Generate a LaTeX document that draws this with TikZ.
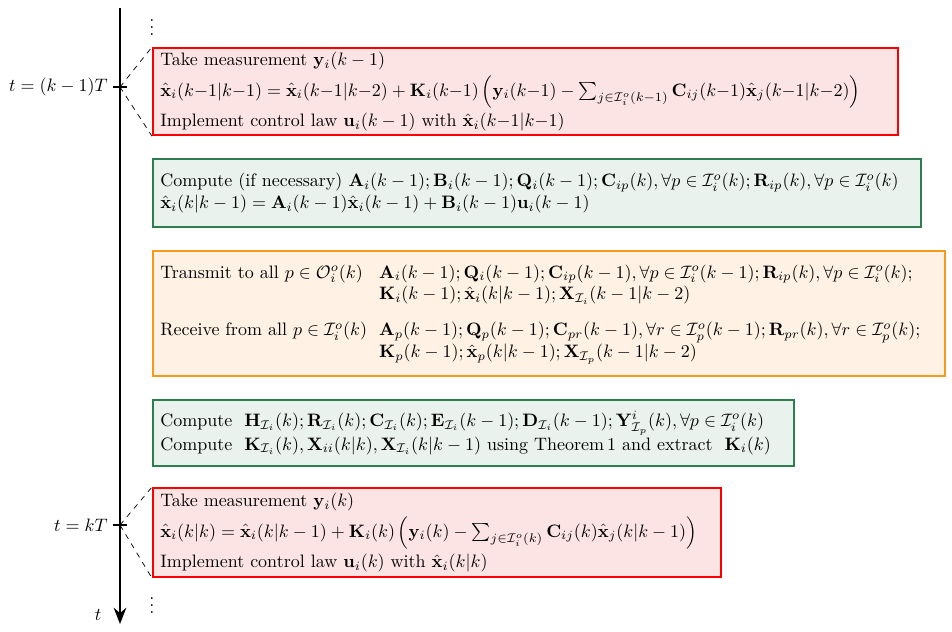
\documentclass[tikz,border=0pt]{standalone}
\usepackage{amsmath,amssymb,bm}
\usetikzlibrary{arrows.meta}
\definecolor{rfill}{HTML}{FDE4E4}
\definecolor{gfill}{HTML}{E9F2EC}
\definecolor{gline}{HTML}{2E7D4F}
\definecolor{ofill}{HTML}{FFF2E4}
\definecolor{oline}{HTML}{F59A1B}
\tikzset{
 box/.style={anchor=north west,align=left,inner sep=0pt,inner xsep=4pt,line width=1.2pt},
 rbox/.style={box,draw=red,fill=rfill},
 gbox/.style={box,draw=gline,fill=gfill},
 obox/.style={box,draw=oline,fill=ofill},
 tick/.style={thick},
 lab/.style={anchor=east,inner sep=0pt}
}
\newcommand{\xh}{\hat{\mathbf{x}}}
\begin{document}
\begin{tikzpicture}[x=0.5556pt,y=-0.5556pt]
\useasboundingbox (0,0) rectangle (952,631);
\coordinate (top) at (120,8);
\coordinate (bot) at (120,624);
\draw[line width=1.3pt,-{Stealth[length=9pt,width=7pt]}] (top) -- (bot);
\node[inner sep=0pt] (t) at (98,615) {$t$};
\node[inner sep=0pt] (d1) at (152,22) {$\vdots$};
\node[inner sep=0pt] (d2) at (152,600) {$\vdots$};

\node[rbox,text width=745*0.5556pt-8pt,minimum height=87*0.5556pt] (b1) at (152,47) {%
Take measurement $\mathbf{y}_i(k-1)$\\[2pt]
$\xh_i(k{-}1|k{-}1)=\xh_i(k{-}1|k{-}2)+\mathbf{K}_i(k{-}1)\,\Big(\mathbf{y}_i(k{-}1)-\sum_{j\in\mathcal{I}_i^o(k-1)}\mathbf{C}_{ij}(k{-}1)\xh_j(k{-}1|k{-}2)\Big)$\\[2pt]
Implement control law $\mathbf{u}_i(k-1)$ with $\xh_i(k{-}1|k{-}1)$};

\node[gbox,text width=768*0.5556pt-8pt,minimum height=68*0.5556pt] (b2) at (152,158) {%
Compute (if necessary) $\mathbf{A}_i(k-1);\mathbf{B}_i(k-1);\mathbf{Q}_i(k-1);\mathbf{C}_{ip}(k),\forall p\in\mathcal{I}_i^o(k);\mathbf{R}_{ip}(k),\forall p\in\mathcal{I}_i^o(k)$\\
$\xh_i(k|k-1)=\mathbf{A}_i(k-1)\xh_i(k-1)+\mathbf{B}_i(k-1)\mathbf{u}_i(k-1)$};

\node[obox,text width=792*0.5556pt-8pt,minimum height=125*0.5556pt] (b3) at (152,250) {%
\begin{tabular}{@{}l@{\ \ }l@{}}
Transmit to all $p\in\mathcal{O}_i^o(k)$ & $\mathbf{A}_i(k-1);\mathbf{Q}_i(k-1);\mathbf{C}_{ip}(k-1),\forall p\in\mathcal{I}_i^o(k-1);\mathbf{R}_{ip}(k),\forall p\in\mathcal{I}_i^o(k);$\\
 & $\mathbf{K}_i(k-1);\xh_i(k|k-1);\mathbf{X}_{\mathcal{I}_i}(k-1|k-2)$\\[8pt]
Receive from all $p\in\mathcal{I}_i^o(k)$ & $\mathbf{A}_p(k-1);\mathbf{Q}_p(k-1);\mathbf{C}_{pr}(k-1),\forall r\in\mathcal{I}_p^o(k-1);\mathbf{R}_{pr}(k),\forall r\in\mathcal{I}_p^o(k);$\\
 & $\mathbf{K}_p(k-1);\xh_p(k|k-1);\mathbf{X}_{\mathcal{I}_p}(k-1|k-2)$
\end{tabular}};

\node[gbox,text width=641*0.5556pt-8pt,minimum height=66*0.5556pt] (b4) at (152,399) {%
Compute\ \ $\mathbf{H}_{\mathcal{I}_i}(k);\mathbf{R}_{\mathcal{I}_i}(k);\mathbf{C}_{\mathcal{I}_i}(k);\mathbf{E}_{\mathcal{I}_i}(k-1);\mathbf{D}_{\mathcal{I}_i}(k-1);\mathbf{Y}^i_{\mathcal{I}_p}(k),\forall p\in\mathcal{I}_i^o(k)$\\
Compute\ \ $\mathbf{K}_{\mathcal{I}_i}(k),\mathbf{X}_{ii}(k|k),\mathbf{X}_{\mathcal{I}_i}(k|k-1)$ using Theorem\,1 and extract\ \ $\mathbf{K}_i(k)$};

\node[rbox,text width=568*0.5556pt-8pt,minimum height=89*0.5556pt] (b5) at (152,487) {%
Take measurement $\mathbf{y}_i(k)$\\[2pt]
$\xh_i(k|k)=\xh_i(k|k-1)+\mathbf{K}_i(k)\,\Big(\mathbf{y}_i(k)-\sum_{j\in\mathcal{I}_i^o(k)}\mathbf{C}_{ij}(k)\xh_j(k|k-1)\Big)$\\[2pt]
Implement control law $\mathbf{u}_i(k)$ with $\xh_i(k|k)$};

\coordinate (c1) at (120,87);
\coordinate (c2) at (120,525);
\draw[tick] (113,87) -- (127,87);
\draw[tick] (113,525) -- (127,525);
\node[lab] (l1) at (108,87) {$t=(k-1)T$};
\node[lab] (l2) at (108,525) {$t=kT$};
\draw[dashed] (c1) -- (b1.north west);
\draw[dashed] (c1) -- (b1.south west);
\draw[dashed] (c2) -- (b5.north west);
\draw[dashed] (c2) -- (b5.south west);
\end{tikzpicture}
\end{document}
